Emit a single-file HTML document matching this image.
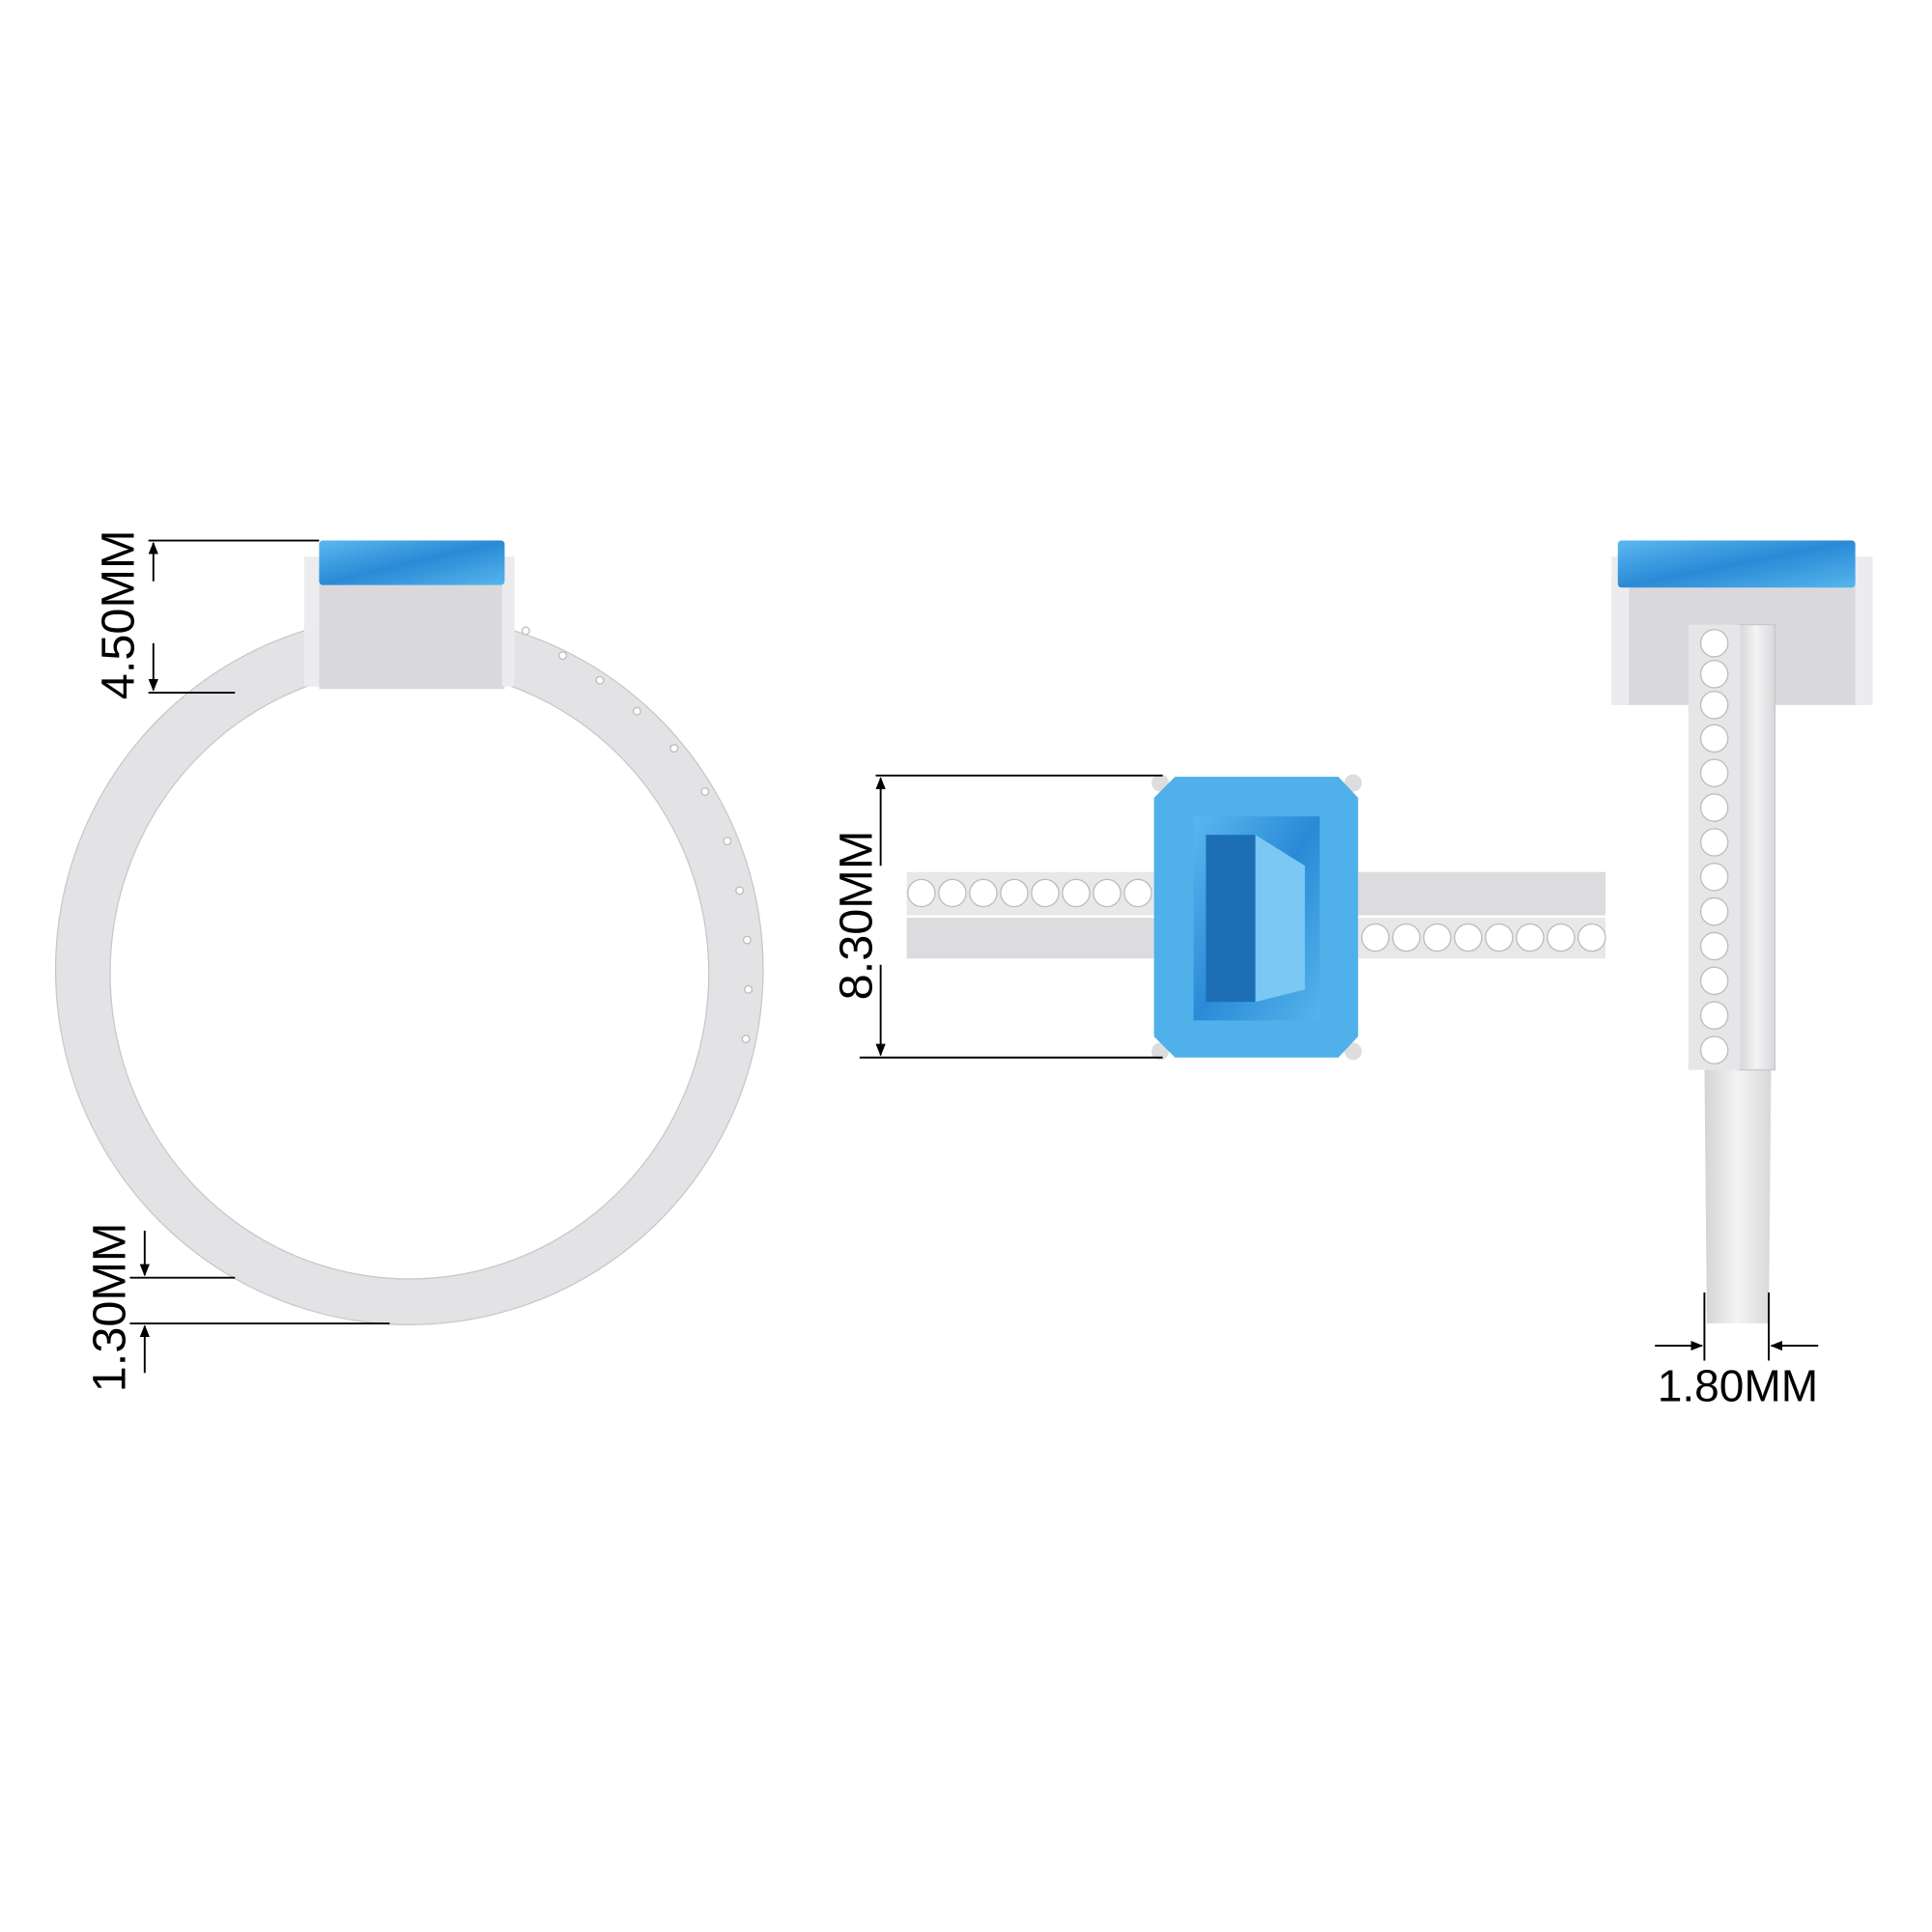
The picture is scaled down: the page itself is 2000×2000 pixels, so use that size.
<!DOCTYPE html>
<html><head><meta charset="utf-8"><style>html,body{margin:0;padding:0;background:#fff}svg{display:block}</style></head>
<body>
<svg width="2000" height="2000" viewBox="0 0 1562 1562" xmlns="http://www.w3.org/2000/svg" font-family="Liberation Sans, sans-serif">
<defs>
<linearGradient id="metal" x1="0" x2="1" y1="0" y2="0"><stop offset="0" stop-color="#d4d4d6"/><stop offset="0.5" stop-color="#f4f4f5"/><stop offset="1" stop-color="#d8d8db"/></linearGradient>
<linearGradient id="blue" x1="0" x2="1" y1="0" y2="1"><stop offset="0" stop-color="#5ab8ef"/><stop offset="0.5" stop-color="#2a8ad6"/><stop offset="1" stop-color="#55b5ec"/></linearGradient>
<marker id="ar" markerWidth="10" markerHeight="10" refX="9" refY="5" orient="auto" markerUnits="userSpaceOnUse"><path d="M0,1 L10,5 L0,9 z" fill="#000"/></marker>
</defs>
<!-- LEFT RING -->
<path fill-rule="evenodd" fill="#e3e3e5" stroke="#c8c8cc" d="M331,497 A286,287 0 1,1 330.9,497 Z M331,540 A242,247 0 1,0 331.1,540 Z"/>
<rect x="258" y="465" width="150" height="92" fill="#d9d9dc"/>
<rect x="246" y="450" width="12" height="105" fill="#ececee"/><rect x="406" y="450" width="10" height="105" fill="#ececee"/>
<rect x="258" y="437" width="150" height="36" fill="url(#blue)" rx="3"/>
<g fill="#fff" stroke="#bbb"><circle cx="425" cy="510" r="3"/><circle cx="455" cy="530" r="3"/><circle cx="485" cy="550" r="3"/><circle cx="515" cy="575" r="3"/><circle cx="545" cy="605" r="3"/><circle cx="570" cy="640" r="3"/><circle cx="588" cy="680" r="3"/><circle cx="598" cy="720" r="3"/><circle cx="604" cy="760" r="3"/><circle cx="605" cy="800" r="3"/><circle cx="603" cy="840" r="3"/></g>
<g stroke="#000" stroke-width="1.5" fill="none">
<line x1="120" y1="437" x2="258" y2="437"/><line x1="120" y1="560" x2="190" y2="560"/>
<line x1="124" y1="470" x2="124" y2="439" marker-end="url(#ar)"/><line x1="124" y1="520" x2="124" y2="558" marker-end="url(#ar)"/>
<line x1="105" y1="1033" x2="190" y2="1033"/><line x1="105" y1="1070" x2="315" y2="1070"/>
<line x1="117" y1="995" x2="117" y2="1031" marker-end="url(#ar)"/><line x1="117" y1="1110" x2="117" y2="1072" marker-end="url(#ar)"/>
</g>
<text transform="translate(108,497) rotate(-90)" text-anchor="middle" font-size="38">4.50MM</text>
<text transform="translate(101,1057) rotate(-90)" text-anchor="middle" font-size="38">1.30MM</text>
<!-- MIDDLE -->
<rect x="733" y="705" width="200" height="35" fill="#e8e8ea"/><rect x="733" y="742" width="200" height="33" fill="#dcdcdf"/>
<rect x="1098" y="705" width="200" height="35" fill="#dcdcdf"/><rect x="1098" y="742" width="200" height="33" fill="#e8e8ea"/>
<g fill="#fff" stroke="#bbb">
<circle cx="745" cy="722" r="11"/><circle cx="770" cy="722" r="11"/><circle cx="795" cy="722" r="11"/><circle cx="820" cy="722" r="11"/><circle cx="845" cy="722" r="11"/><circle cx="870" cy="722" r="11"/><circle cx="895" cy="722" r="11"/><circle cx="920" cy="722" r="11"/>
<circle cx="1112" cy="758" r="11"/><circle cx="1137" cy="758" r="11"/><circle cx="1162" cy="758" r="11"/><circle cx="1187" cy="758" r="11"/><circle cx="1212" cy="758" r="11"/><circle cx="1237" cy="758" r="11"/><circle cx="1262" cy="758" r="11"/><circle cx="1287" cy="758" r="11"/></g>
<circle cx="938" cy="633" r="7" fill="#ddd"/><circle cx="1094" cy="633" r="7" fill="#ddd"/><circle cx="938" cy="850" r="7" fill="#ddd"/><circle cx="1094" cy="850" r="7" fill="#ddd"/>
<polygon points="950,628 1082,628 1098,645 1098,838 1082,855 950,855 933,838 933,645" fill="#4fb0ea"/>
<polygon points="965,660 1067,660 1067,825 965,825" fill="url(#blue)"/>
<polygon points="975,675 1015,675 1015,810 975,810" fill="#1c6fb5"/>
<polygon points="1015,675 1055,700 1055,800 1015,810" fill="#7cc8f4"/>
<g stroke="#000" stroke-width="1.5" fill="none">
<line x1="708" y1="627" x2="940" y2="627"/><line x1="695" y1="855" x2="940" y2="855"/>
<line x1="712" y1="700" x2="712" y2="629" marker-end="url(#ar)"/><line x1="712" y1="780" x2="712" y2="853" marker-end="url(#ar)"/>
</g>
<text transform="translate(705,740) rotate(-90)" text-anchor="middle" font-size="38">8.30MM</text>
<!-- RIGHT -->
<rect x="1303" y="465" width="202" height="105" fill="#d9d9dc"/>
<rect x="1303" y="450" width="14" height="120" fill="#ececee"/><rect x="1500" y="450" width="14" height="120" fill="#ececee"/>
<rect x="1308" y="437" width="192" height="38" fill="url(#blue)" rx="3"/>
<path d="M1378,860 L1432,860 L1430,1070 L1380,1070 Z" fill="url(#metal)"/>
<rect x="1405" y="505" width="30" height="360" fill="url(#metal)" stroke="#c8c8cc"/>
<rect x="1365" y="505" width="42" height="360" fill="#e6e6e8"/>
<g fill="#fff" stroke="#bbb">
<circle cx="1386" cy="520" r="11"/><circle cx="1386" cy="545" r="11"/><circle cx="1386" cy="570" r="11"/><circle cx="1386" cy="597" r="11"/><circle cx="1386" cy="625" r="11"/><circle cx="1386" cy="653" r="11"/><circle cx="1386" cy="681" r="11"/><circle cx="1386" cy="709" r="11"/><circle cx="1386" cy="737" r="11"/><circle cx="1386" cy="765" r="11"/><circle cx="1386" cy="793" r="11"/><circle cx="1386" cy="821" r="11"/><circle cx="1386" cy="849" r="11"/></g>
<g stroke="#000" stroke-width="1.5" fill="none">
<line x1="1378" y1="1045" x2="1378" y2="1100"/><line x1="1430" y1="1045" x2="1430" y2="1100"/>
<line x1="1338" y1="1088" x2="1376" y2="1088" marker-end="url(#ar)"/><line x1="1470" y1="1088" x2="1432" y2="1088" marker-end="url(#ar)"/>
</g>
<text x="1405" y="1133" text-anchor="middle" font-size="36">1.80MM</text>
</svg>
</body></html>
